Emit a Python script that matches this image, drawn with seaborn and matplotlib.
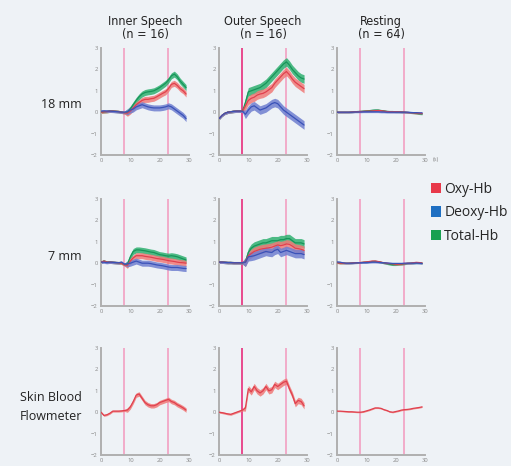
import numpy as np
import pandas as pd
import matplotlib
matplotlib.use("Agg")
import matplotlib.pyplot as plt
from matplotlib.patches import Patch
import seaborn as sns

# ---------------- data ----------------
t = list(range(0, 30))  # seconds

# Row "18 mm"
inner18_oxy = [0.0, 0.02, 0.03, 0.05, 0.05, 0.04, 0.03, 0.0, -0.03, -0.05, 0.05, 0.2, 0.35, 0.45, 0.55, 0.6, 0.6, 0.63, 0.65, 0.72, 0.8, 0.88, 0.95, 1.1, 1.3, 1.35, 1.25, 1.1, 1.0, 0.85]
inner18_tot = [0.0, 0.02, 0.03, 0.05, 0.05, 0.04, 0.03, 0.0, -0.02, 0.0, 0.15, 0.35, 0.55, 0.72, 0.85, 0.92, 0.95, 0.97, 1.0, 1.07, 1.15, 1.25, 1.35, 1.5, 1.7, 1.78, 1.65, 1.45, 1.3, 1.15]
inner18_deo = [0.05, 0.06, 0.05, 0.05, 0.04, 0.03, 0.02, 0.0, 0.0, 0.02, 0.1, 0.15, 0.25, 0.3, 0.35, 0.3, 0.25, 0.22, 0.2, 0.2, 0.2, 0.22, 0.25, 0.3, 0.25, 0.15, 0.05, -0.05, -0.15, -0.3]

outer18_oxy = [-0.3, -0.15, -0.05, 0.0, 0.02, 0.04, 0.05, 0.05, 0.05, 0.3, 0.55, 0.65, 0.7, 0.8, 0.85, 0.88, 0.95, 1.05, 1.15, 1.35, 1.5, 1.65, 1.8, 1.9, 1.75, 1.55, 1.4, 1.3, 1.2, 1.1]
outer18_tot = [-0.3, -0.15, -0.05, 0.0, 0.02, 0.04, 0.05, 0.05, 0.05, 0.45, 0.95, 1.0, 1.05, 1.1, 1.15, 1.25, 1.35, 1.5, 1.65, 1.8, 1.95, 2.1, 2.25, 2.35, 2.2, 2.0, 1.85, 1.7, 1.6, 1.55]
outer18_deo = [-0.3, -0.15, -0.05, 0.0, 0.02, 0.04, 0.05, 0.05, 0.05, -0.1, 0.1, 0.25, 0.3, 0.2, 0.1, 0.15, 0.2, 0.3, 0.4, 0.45, 0.4, 0.25, 0.1, 0.0, -0.1, -0.2, -0.3, -0.4, -0.5, -0.6]

rest18_oxy = [0.0, 0.0, 0.0, 0.0, 0.0, 0.01, 0.02, 0.02, 0.03, 0.04, 0.05, 0.05, 0.06, 0.07, 0.08, 0.07, 0.05, 0.03, 0.02, 0.02, 0.02, 0.02, 0.01, 0.0, -0.01, -0.02, -0.03, -0.04, -0.05, -0.06]
rest18_tot = [0.0, 0.0, 0.0, 0.0, 0.0, 0.01, 0.02, 0.03, 0.04, 0.05, 0.06, 0.07, 0.09, 0.1, 0.1, 0.08, 0.06, 0.04, 0.03, 0.03, 0.02, 0.02, 0.01, 0.0, -0.01, -0.02, -0.03, -0.05, -0.07, -0.08]
rest18_deo = [0.0, 0.0, 0.0, 0.0, 0.0, 0.0, 0.01, 0.01, 0.01, 0.02, 0.02, 0.02, 0.02, 0.02, 0.02, 0.01, 0.01, 0.0, 0.0, 0.0, 0.0, 0.0, 0.0, 0.0, 0.0, -0.01, -0.02, -0.02, -0.03, -0.03]

# Row "7 mm"
inner7_oxy = [0.05, 0.1, 0.05, 0.05, 0.04, 0.03, 0.02, 0.0, -0.08, -0.1, 0.1, 0.25, 0.35, 0.35, 0.35, 0.32, 0.3, 0.28, 0.25, 0.22, 0.2, 0.18, 0.15, 0.12, 0.1, 0.08, 0.05, 0.03, 0.02, 0.0]
inner7_tot = [0.05, 0.1, 0.05, 0.05, 0.04, 0.03, 0.02, 0.0, -0.06, -0.05, 0.3, 0.55, 0.62, 0.62, 0.6, 0.58, 0.55, 0.52, 0.5, 0.45, 0.4, 0.38, 0.35, 0.33, 0.35, 0.33, 0.3, 0.25, 0.2, 0.15]
inner7_deo = [0.05, 0.05, 0.03, 0.05, 0.04, 0.03, 0.02, 0.05, -0.05, -0.03, 0.0, 0.05, 0.1, 0.05, 0.0, 0.0, 0.0, -0.02, -0.05, -0.08, -0.1, -0.12, -0.15, -0.18, -0.2, -0.2, -0.2, -0.22, -0.24, -0.25]

outer7_oxy = [0.05, 0.05, 0.04, 0.03, 0.03, 0.02, 0.02, 0.02, 0.02, 0.05, 0.35, 0.45, 0.55, 0.6, 0.65, 0.68, 0.7, 0.72, 0.75, 0.8, 0.85, 0.82, 0.85, 0.9, 0.88, 0.8, 0.7, 0.68, 0.65, 0.6]
outer7_tot = [0.05, 0.05, 0.04, 0.03, 0.03, 0.02, 0.02, 0.02, 0.02, 0.05, 0.5, 0.7, 0.8, 0.85, 0.9, 0.95, 0.95, 1.0, 1.05, 1.05, 1.05, 1.1, 1.1, 1.15, 1.15, 1.05, 0.95, 0.95, 0.95, 0.9]
outer7_deo = [0.05, 0.05, 0.04, 0.03, 0.03, 0.02, 0.02, 0.02, 0.02, 0.05, 0.3, 0.32, 0.35, 0.4, 0.45, 0.5, 0.55, 0.52, 0.5, 0.6, 0.65, 0.5, 0.55, 0.6, 0.55, 0.5, 0.45, 0.45, 0.45, 0.4]

rest7_oxy = [0.02, 0.0, 0.0, 0.0, 0.0, 0.01, 0.02, 0.02, 0.03, 0.05, 0.06, 0.08, 0.1, 0.1, 0.08, 0.05, 0.02, 0.0, -0.02, -0.03, -0.05, -0.05, -0.04, -0.02, 0.0, 0.0, 0.02, 0.04, 0.03, 0.01]
rest7_tot = [0.03, 0.0, 0.0, 0.0, 0.0, 0.01, 0.02, 0.02, 0.03, 0.04, 0.05, 0.07, 0.08, 0.09, 0.07, 0.04, 0.01, -0.02, -0.05, -0.07, -0.07, -0.06, -0.05, -0.03, -0.01, 0.0, 0.01, 0.02, 0.02, 0.0]
rest7_deo = [0.06, 0.05, 0.02, 0.0, 0.0, 0.0, 0.01, 0.02, 0.02, 0.03, 0.03, 0.04, 0.05, 0.05, 0.04, 0.03, 0.02, 0.01, 0.0, -0.01, -0.01, -0.01, -0.01, 0.0, 0.0, 0.0, 0.0, 0.01, 0.0, -0.01]

# Row "Skin Blood Flowmeter"
innerSB = [0.0, -0.15, -0.12, -0.05, 0.05, 0.05, 0.05, 0.06, 0.08, 0.1, 0.25, 0.5, 0.8, 0.85, 0.65, 0.45, 0.35, 0.3, 0.3, 0.35, 0.45, 0.5, 0.55, 0.6, 0.5, 0.45, 0.35, 0.28, 0.2, 0.1]
outerSB = [0.0, -0.02, -0.05, -0.08, -0.1, -0.05, 0.0, 0.05, 0.1, 0.2, 1.1, 0.95, 1.2, 1.0, 0.9, 1.0, 1.2, 1.0, 1.05, 1.3, 1.2, 1.3, 1.4, 1.45, 1.1, 0.8, 0.4, 0.55, 0.5, 0.3]
restSB = [0.05, 0.05, 0.04, 0.03, 0.02, 0.02, 0.01, 0.0, 0.0, 0.02, 0.06, 0.1, 0.15, 0.2, 0.2, 0.18, 0.12, 0.08, 0.02, 0.0, 0.03, 0.06, 0.1, 0.12, 0.13, 0.15, 0.18, 0.2, 0.22, 0.25]

# band half-widths (standard error) per column: before / after task onset
band_pre = [0.06, 0.06, 0.035]
band_post = [0.14, 0.2, 0.04]

col_titles = ["Inner Speech\n(n = 16)", "Outer Speech\n(n = 16)", "Resting\n(n = 64)"]
row_labels = ["18 mm", "7 mm", "Skin Blood\nFlowmeter"]
series_names = ["Oxy-Hb", "Deoxy-Hb", "Total-Hb"]
onsets = [8, 23]
yticks = [-2, -1, 0, 1, 2, 3]
xticks = [0, 10, 20, 30]

panels = [
    [{"Total-Hb": inner18_tot, "Oxy-Hb": inner18_oxy, "Deoxy-Hb": inner18_deo},
     {"Total-Hb": outer18_tot, "Oxy-Hb": outer18_oxy, "Deoxy-Hb": outer18_deo},
     {"Total-Hb": rest18_tot, "Oxy-Hb": rest18_oxy, "Deoxy-Hb": rest18_deo}],
    [{"Total-Hb": inner7_tot, "Oxy-Hb": inner7_oxy, "Deoxy-Hb": inner7_deo},
     {"Total-Hb": outer7_tot, "Oxy-Hb": outer7_oxy, "Deoxy-Hb": outer7_deo},
     {"Total-Hb": rest7_tot, "Oxy-Hb": rest7_oxy, "Deoxy-Hb": rest7_deo}],
    [{"Oxy-Hb": innerSB}, {"Oxy-Hb": outerSB}, {"Oxy-Hb": restSB}],
]

# ---------------- style ----------------
BG = "#eef2f6"
sns.set_style("white", {"axes.facecolor": BG, "figure.facecolor": BG})
plt.rcParams["font.family"] = ["Open Sans", "DejaVu Sans"]

line_col = {"Oxy-Hb": "#e0404e", "Deoxy-Hb": "#3a52b8", "Total-Hb": "#17955a"}
band_col = {"Oxy-Hb": "#f07a78", "Deoxy-Hb": "#6f7fd0", "Total-Hb": "#2fb070"}
legend_col = {"Oxy-Hb": "#e8394a", "Deoxy-Hb": "#1e6fc2", "Total-Hb": "#18a050"}
onset_col = ["#f2a6c6", "#e83d86"]

fig = plt.figure(figsize=(5.11, 4.66), dpi=100)
W, H = 511, 466
col_left = [101, 219, 337]
row_top = [48, 199, 348]
aw, ah = 88, 107

tarr = np.array(t)
for r in range(3):
    for c in range(3):
        ax = fig.add_axes([col_left[c] / W, 1 - (row_top[r] + ah) / H, aw / W, ah / H])
        ax.set_facecolor(BG)
        # stimulus markers
        for i, o in enumerate(onsets):
            col = onset_col[1] if (c == 1 and i == 0) else onset_col[0]
            ax.axvline(o, color=col, lw=1.3, zorder=1)
        for name in ["Total-Hb", "Oxy-Hb", "Deoxy-Hb"]:
            if name not in panels[r][c]:
                continue
            vals = np.array(panels[r][c][name])
            df = pd.DataFrame({"t": t, "v": vals})
            b = np.where(tarr < 9, band_pre[c], band_post[c])
            if r == 2:
                b = b * 0.75
            ax.fill_between(df["t"], df["v"] - b, df["v"] + b,
                            color=band_col[name], alpha=0.85, lw=0, zorder=2)
            sns.lineplot(data=df, x="t", y="v", ax=ax, color=line_col[name],
                         lw=0.9, zorder=3, legend=False)
        ax.set_xlim(0, 30)
        ax.set_ylim(-2, 3)
        ax.set_xticks(xticks)
        ax.set_yticks(yticks)
        ax.set_xlabel("")
        ax.set_ylabel("")
        ax.tick_params(axis="both", labelsize=4.2, labelcolor="#888888",
                       color="#aaaaaa", length=1.5, width=0.6, pad=0.8)
        for s in ["top", "right"]:
            ax.spines[s].set_visible(False)
        for s in ["left", "bottom"]:
            ax.spines[s].set_color("#b0b0b0")
            ax.spines[s].set_linewidth(1.4)
        if r == 0:
            ax.set_title(col_titles[c], fontsize=9, color="#222222", pad=7,
                         family=["DejaVu Sans"], fontstretch="condensed",
                         linespacing=1.05)
        if c == 0:
            y_c = 1 - (row_top[r] + (57 if r < 2 else 59)) / H
            fig.text(82 / W, y_c, row_labels[r], ha="right", va="center",
                     fontsize=9, color="#222222", linespacing=1.55)
        if r == 0 and c == 2:
            ax.text(1.12, -0.02, "(s)", transform=ax.transAxes, fontsize=4.2,
                    color="#888888", ha="center", va="top")

handles = [Patch(facecolor=legend_col[n], edgecolor="none", label=n) for n in series_names]
fig.legend(handles=handles, loc="upper left", bbox_to_anchor=(431 / W, 1 - 182 / H),
           frameon=False, fontsize=10, handlelength=0.75, handleheight=0.75,
           handletextpad=0.2, labelspacing=0.6, borderaxespad=0, borderpad=0)

fig.savefig("out.png", dpi=100, facecolor=BG)
